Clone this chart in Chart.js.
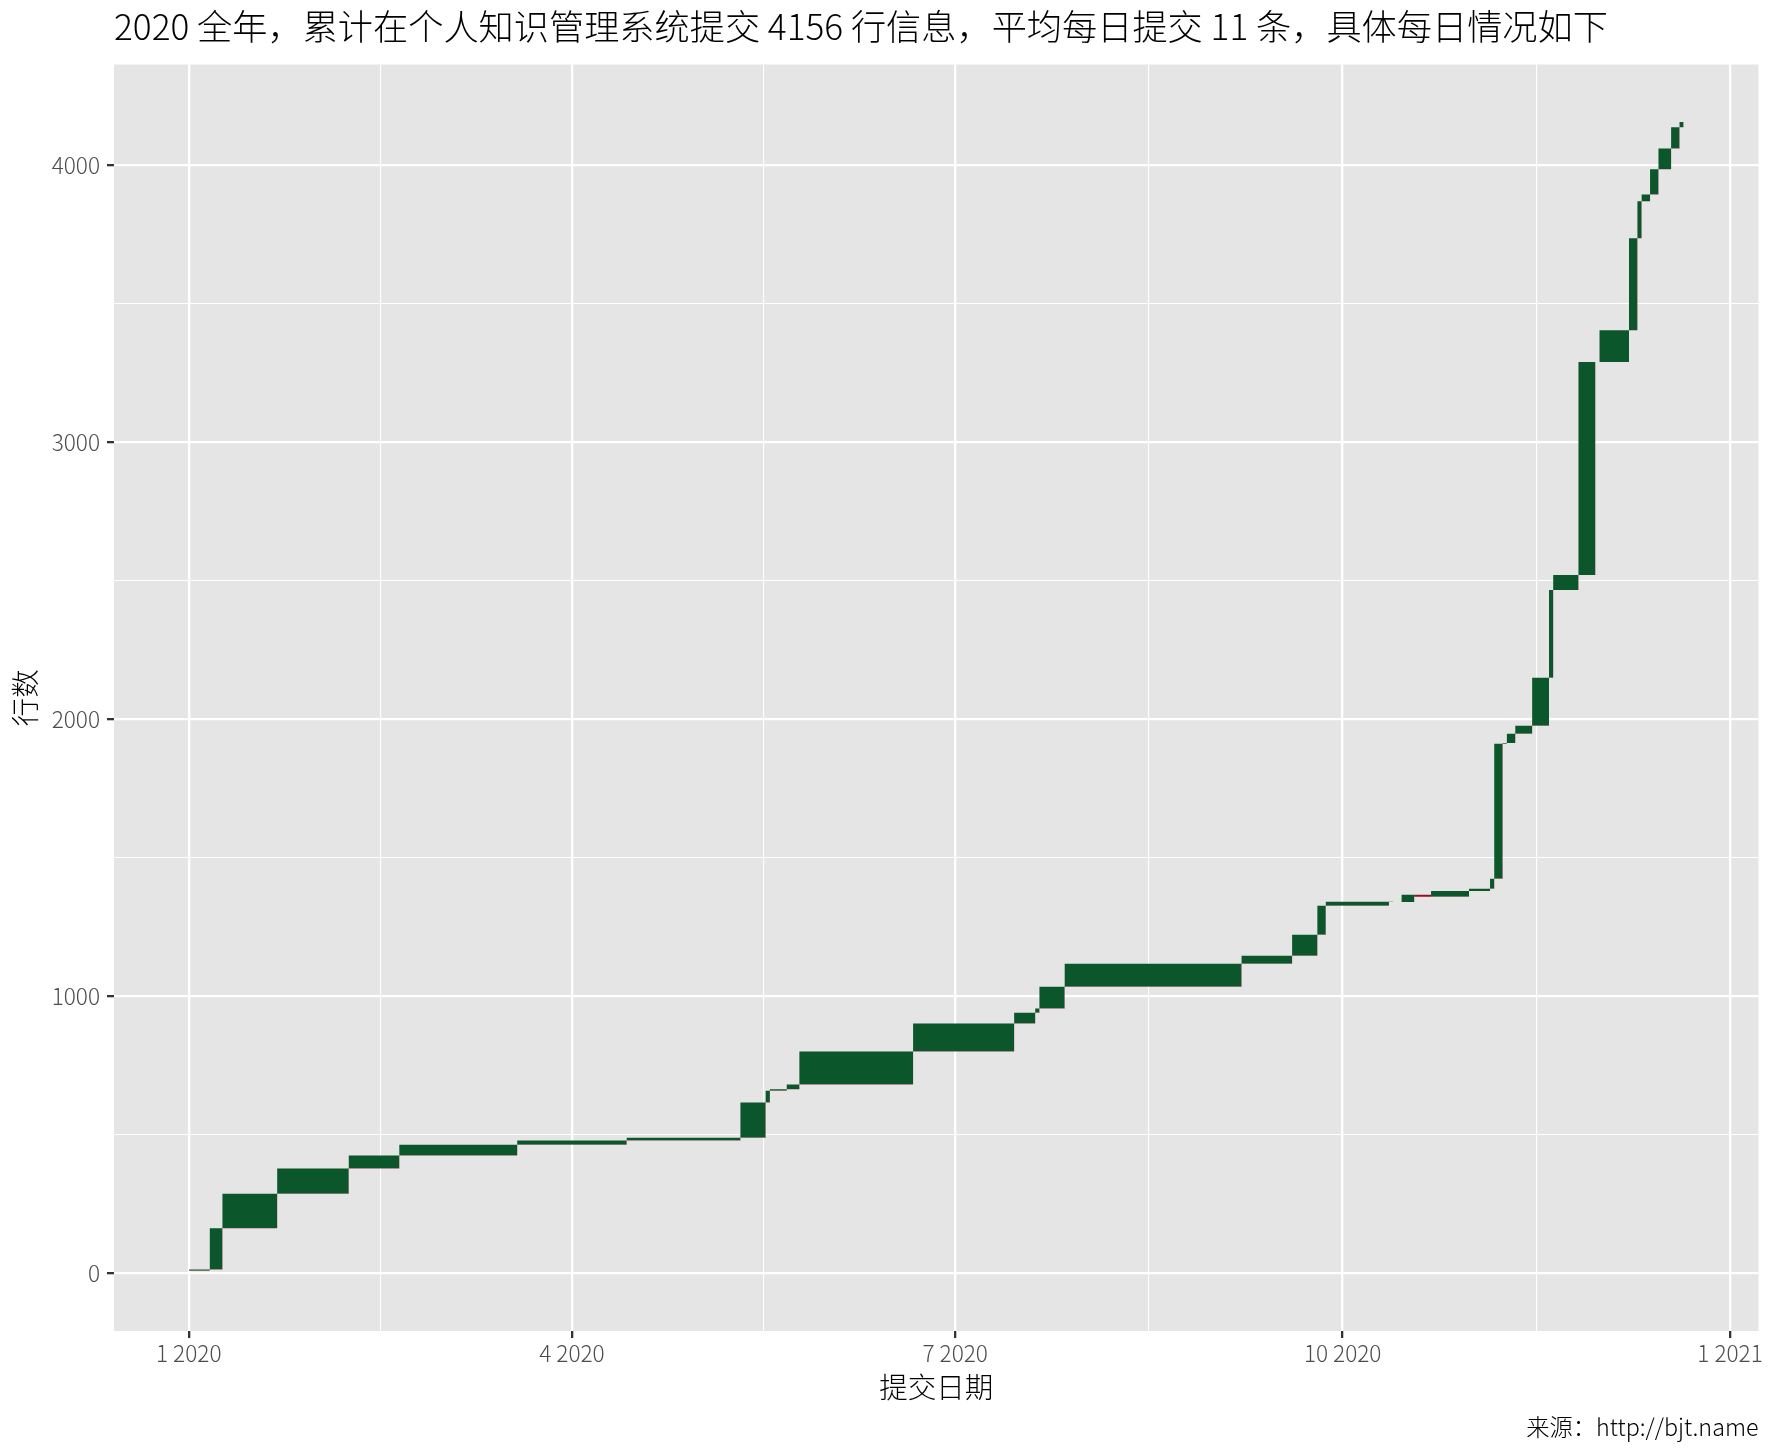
<!DOCTYPE html>
<html lang="zh">
  <head>
    <meta charset="UTF-8" />
    <title>2020 个人知识管理系统提交记录</title>
    <style>
      html,
      body {
        margin: 0;
        padding: 0;
        background: #ffffff;
      }
    </style>
    <script src="https://cdn.jsdelivr.net/npm/chart.js@4"></script>
  </head>
  <body>
    <canvas id="commitChart" width="1774" height="1456"></canvas>

    <script>
      // each commit date opens a step that lasts until the next date
      const commitDates = [
        "2020-01-01", "2020-01-06", "2020-01-09", "2020-01-22", "2020-02-08",
        "2020-02-20", "2020-03-19", "2020-04-14", "2020-05-11", "2020-05-17",
        "2020-05-18", "2020-05-22", "2020-05-25", "2020-06-21", "2020-07-15",
        "2020-07-20", "2020-07-21", "2020-07-27", "2020-09-07", "2020-09-19",
        "2020-09-25", "2020-09-27", "2020-10-12", "2020-10-13", "2020-10-15",
        "2020-10-18", "2020-10-22", "2020-10-31", "2020-11-05", "2020-11-06",
        "2020-11-08", "2020-11-09", "2020-11-11", "2020-11-15", "2020-11-19",
        "2020-11-20", "2020-11-26", "2020-11-30", "2020-12-01", "2020-12-08",
        "2020-12-10", "2020-12-11", "2020-12-13", "2020-12-15", "2020-12-18",
        "2020-12-20", "2020-12-21"
      ];

      // running total of lines; first value is the level before the first step
      const lineTotals = [
        10, 14, 163, 288, 379, 426, 465, 480, 490, 617,
        660, 665, 682, 801, 902, 941, 956, 1035, 1118, 1147,
        1223, 1327, 1342, 1341, 1341, 1367, 1360, 1381, 1389, 1425,
        1912, 1915, 1948, 1977, 2150, 2467, 2521, 3290, 3290, 3405,
        3737, 3870, 3895, 3986, 4061, 4137, 4156
      ];

      const xTickDates = ["2020-01-01", "2020-04-01", "2020-07-01", "2020-10-01", "2021-01-01"];
      const xTickLabels = ["1 2020", "4 2020", "7 2020", "10 2020", "1 2021"];
      const yTicks = [0, 1000, 2000, 3000, 4000];

      const FONT = "'Noto Sans CJK SC', 'Noto Sans', sans-serif";
      const UP = "#0b572b";
      const DOWN = "#9b0b21";

      const DAY0 = Date.UTC(2020, 0, 1);
      const toDay = (s) => (Date.parse(s) - DAY0) / 864e5;
      const days = commitDates.map(toDay);
      const xTickDays = xTickDates.map(toDay);

      // ggplot style: minor breaks half way between the major ones
      function withMinor(major) {
        const out = major.map((v) => ({ value: v, minor: false }));
        for (let i = 0; i < major.length - 1; i++) {
          out.push({ value: (major[i] + major[i + 1]) / 2, minor: true });
        }
        return out.sort((a, b) => a.value - b.value);
      }

      // step tops and bottoms, one point per commit date
      const n = days.length - 1;
      const topPts = [];
      const bottomPts = [];
      for (let k = 1; k <= n; k++) {
        topPts.push({ x: days[k - 1], y: lineTotals[k] });
        bottomPts.push({ x: days[k - 1], y: lineTotals[k - 1] });
      }
      topPts.push({ x: days[n], y: lineTotals[n] });
      bottomPts.push({ x: days[n], y: lineTotals[n - 1] });

      // 5% expansion like ggplot
      const xLo = Math.min(...days), xHi = Math.max(...days);
      const yLo = Math.min(0, ...lineTotals), yHi = Math.max(...lineTotals);
      const xPad = (xHi - xLo) * 0.05, yPad = (yHi - yLo) * 0.05;

      const panelBg = {
        id: "panelBg",
        beforeDraw(chart) {
          const { ctx, chartArea: a } = chart;
          ctx.save();
          ctx.fillStyle = "#e5e5e5";
          ctx.fillRect(a.left, a.top, a.right - a.left, a.bottom - a.top);
          ctx.restore();
        },
      };

      const gridOpts = {
        color: "#ffffff",
        lineWidth: (c) => (c.tick && c.tick.minor ? 1.1 : 2.3),
        tickColor: (c) => (c.tick && c.tick.minor ? "rgba(0,0,0,0)" : "#333333"),
        tickWidth: 2.3,
        tickLength: 7,
        drawTicks: true,
      };

      const stepStyle = {
        stepped: true, // hold each value until the next date
        borderWidth: 0,
        borderColor: "rgba(0,0,0,0)",
        pointRadius: 0,
      };

      new Chart(document.getElementById("commitChart"), {
        type: "line",
        data: {
          datasets: [
            { ...stepStyle, data: topPts, fill: { target: 1, above: UP, below: DOWN } },
            { ...stepStyle, data: bottomPts, fill: false },
          ],
        },
        options: {
          responsive: false,
          animation: false,
          devicePixelRatio: 1,
          layout: { padding: { left: 0, right: 15.5, top: 0, bottom: 0 } },
          plugins: {
            legend: { display: false },
            tooltip: { enabled: false },
            title: {
              display: true,
              text: "2020 全年，累计在个人知识管理系统提交 4156 行信息，平均每日提交 11 条，具体每日情况如下",
              align: "start",
              fullSize: false,
              color: "#000000",
              font: { family: FONT, size: 35.2, weight: "300", lineHeight: 1.2 },
              padding: { top: 6, bottom: 16.3 },
            },
            subtitle: {
              display: true,
              position: "bottom",
              align: "end",
              text: "来源：http://bjt.name",
              color: "#000000",
              font: { family: FONT, size: 23.3, weight: "300", lineHeight: 1.2 },
              padding: { top: 9, bottom: 14.5 },
            },
          },
          scales: {
            x: {
              type: "linear",
              min: xLo - xPad,
              max: xHi + xPad,
              afterBuildTicks: (s) => {
                s.ticks = withMinor(xTickDays);
              },
              afterFit: (s) => {
                s.height = 73.5;
              },
              border: { display: false },
              grid: gridOpts,
              ticks: {
                autoSkip: false,
                maxRotation: 0,
                padding: 2,
                color: "#4d4d4d",
                font: { family: FONT, size: 22.6, weight: "300", lineHeight: 1.2 },
                callback: (v) => {
                  const i = xTickDays.indexOf(v);
                  return i >= 0 ? xTickLabels[i] : "";
                },
              },
              title: {
                display: true,
                text: "提交日期",
                color: "#000000",
                font: { family: FONT, size: 28.5, weight: "300", lineHeight: 1.2 },
                padding: { top: 0, bottom: 0.7 },
              },
            },
            y: {
              type: "linear",
              min: yLo - yPad,
              max: yHi + yPad,
              afterBuildTicks: (s) => {
                s.ticks = withMinor(yTicks);
              },
              afterFit: (s) => {
                s.width = 114;
              },
              border: { display: false },
              grid: gridOpts,
              ticks: {
                autoSkip: false,
                padding: 7,
                color: "#4d4d4d",
                font: { family: FONT, size: 22.6, weight: "300", lineHeight: 1.2 },
                callback: (v) => (yTicks.includes(v) ? String(v) : ""),
              },
              title: {
                display: true,
                text: "行数",
                color: "#000000",
                font: { family: FONT, size: 28.5, weight: "300", lineHeight: 1.2 },
                padding: { top: 8, bottom: 0 },
              },
            },
          },
        },
        plugins: [panelBg],
      });
    </script>
  </body>
</html>
